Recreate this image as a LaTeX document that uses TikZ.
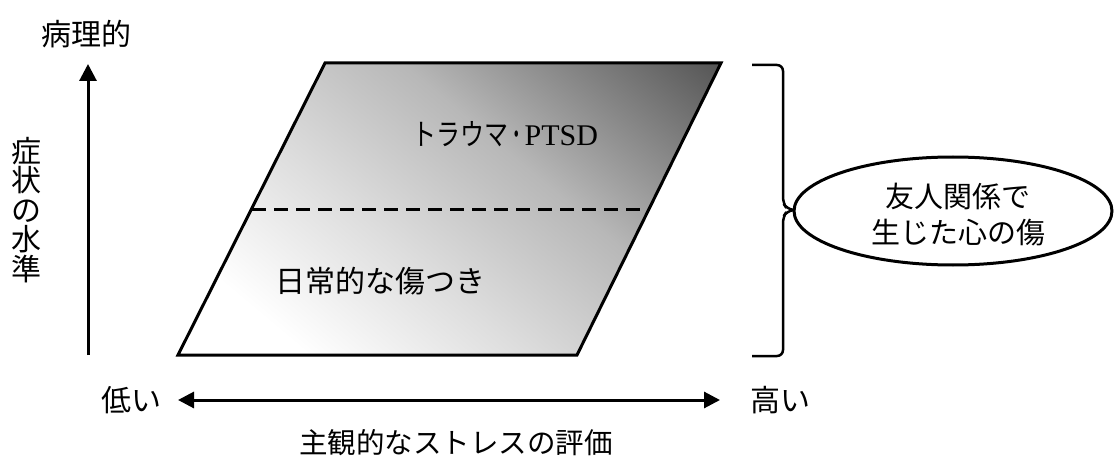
\documentclass[tikz,border=0pt]{standalone}
\usepackage{fontspec}
\setmainfont{Liberation Serif}
\newfontfamily\jp{Noto Sans CJK JP}
\usetikzlibrary{arrows.meta,shapes.geometric}
\definecolor{gA}{gray}{1.0}
\definecolor{gB}{gray}{0.87}
\definecolor{gC}{gray}{0.72}
\definecolor{gD}{gray}{0.32}
\pgfdeclareverticalshading{parashade}{100bp}{color(0bp)=(gA); color(25bp)=(gA); color(42bp)=(gB); color(60bp)=(gC); color(86bp)=(gD); color(100bp)=(gD)}
\begin{document}
\begin{tikzpicture}[x=1pt,y=-1pt,
  lbl/.style={font=\jp\fontsize{30}{30}\selectfont, inner sep=0pt},
  outline/.style={line width=3pt, line join=miter},
  axisarrow/.style={line width=3pt, -{Triangle[length=17pt,width=17pt]}},
  dblarrow/.style={line width=3pt, {Triangle[length=16pt,width=16pt]}-{Triangle[length=16pt,width=16pt]}},
  divider/.style={line width=3pt, dash pattern=on 14pt off 8pt},
  bracestyle/.style={line width=2.5pt, rounded corners=6pt},
]
\useasboundingbox (0,0) rectangle (1116,465);

% parallelogram
\coordinate (A) at (325,63);
\coordinate (B) at (721,63);
\coordinate (C) at (577,355);
\coordinate (D) at (178,355);
\draw[outline, shading=parashade, shading angle=-40]
  (A) -- (B) -- (C) -- (D) -- cycle;

% dashed divider
\coordinate (L) at (252,210);
\coordinate (R) at (645,210);
\draw[divider] (L) -- (R);

\node[lbl] (trauma) at (505,134) {\scalebox{0.8}[1]{トラウマ}\scalebox{0.55}[1]{・}{\rmfamily PTSD}};
\node[lbl] (daily) at (380,281) {日常的な傷つき};

% vertical axis
\coordinate (vb) at (88,355);
\coordinate (vt) at (88,64);
\draw[axisarrow] (vb) -- (vt);
\node[lbl] (patho) at (86,34) {病理的};
\node[lbl, align=center, font=\jp\fontsize{30}{29.5}\selectfont] (symptom) at (27,210) {症\\状\\の\\水\\準};

% horizontal axis
\coordinate (hl) at (178,400);
\coordinate (hr) at (720,400);
\draw[dblarrow] (hl) -- (hr);
\node[lbl] (low) at (131,400) {低い};
\node[lbl] (high) at (780,400) {高い};
\node[lbl, font=\jp\fontsize{28.5}{30}\selectfont] (stress) at (456,443) {主観的なストレスの評価};

% brace
\coordinate (bt) at (752,65);
\coordinate (bb) at (752,356);
\coordinate (btip) at (794,210);
\draw[bracestyle] (bt) -- (783,65) -- (783,203) -- (787,209) -- (btip);
\draw[bracestyle] (bb) -- (783,356) -- (783,217) -- (787,211) -- (btip);

% ellipse
\node[ellipse, draw, line width=3pt, minimum width=318pt, minimum height=108pt, inner sep=0pt]
  (friend) at (953,211) {};
\node[lbl, align=center, font=\jp\fontsize{29}{36}\selectfont] (ftext) at (958,215) {友人関係で\\生じた心の傷};
\end{tikzpicture}
\end{document}
